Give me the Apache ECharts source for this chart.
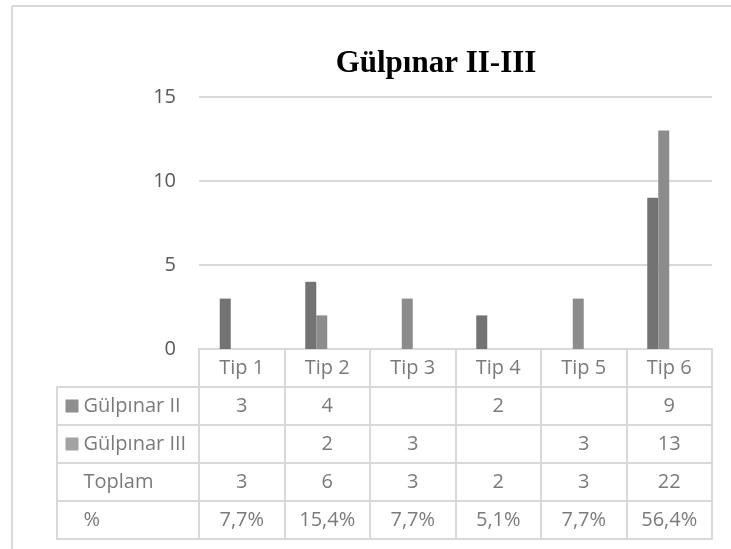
<!DOCTYPE html>
<html>
<head>
<meta charset="utf-8">
<script src="https://cdn.jsdelivr.net/npm/echarts@6/dist/echarts.min.js"></script>
<style>html,body{margin:0;padding:0;background:#fff;}#c{width:731px;height:549px;}</style>
</head>
<body>
<div id="c"></div>
<script>
const title = 'Gülpınar II-III';
const categories = ['Tip 1', 'Tip 2', 'Tip 3', 'Tip 4', 'Tip 5', 'Tip 6'];
const gulpinar2 = [3, 4, null, 2, null, 9];
const gulpinar3 = [null, 2, 3, null, 3, 13];
const toplam = [3, 6, 3, 2, 3, 22];
const percent = ['7,7%', '15,4%', '7,7%', '5,1%', '7,7%', '56,4%'];
const rowNames = ['Gülpınar II', 'Gülpınar III', 'Toplam', '%'];
const yTicks = [0, 5, 10, 15];

const colors = ['#737373', '#8c8c8c'];
const textColor = '#595959';
const lineColor = '#d9d9d9';
const font = '"Open Sans", sans-serif';

// table cells built from the arrays
const tableRows = ['header', 'r1', 'r2', 'r3', 'r4'];
const cells = [];
categories.forEach((c, i) => {
  cells.push([i, 0, c]);
  if (gulpinar2[i] != null) cells.push([i, 1, String(gulpinar2[i])]);
  if (gulpinar3[i] != null) cells.push([i, 2, String(gulpinar3[i])]);
  cells.push([i, 3, String(toplam[i])]);
  cells.push([i, 4, percent[i]]);
});
const labelCells = rowNames.map((n, i) => [0, i, n]);

const chart = echarts.init(document.getElementById('c'), null, {renderer: 'canvas'});
chart.setOption({
  animation: false,
  backgroundColor: '#fff',
  title: {
    text: title, left: 431, top: 43, textAlign: 'center',
    textStyle: {fontFamily: '"Liberation Serif", serif', fontWeight: 'bold', fontSize: 31, color: '#000'}
  },
  graphic: [
    {type: 'line', shape: {x1: 12, y1: 6, x2: 731, y2: 6}, style: {stroke: lineColor, lineWidth: 2}},
    {type: 'line', shape: {x1: 12, y1: 6, x2: 12, y2: 549}, style: {stroke: lineColor, lineWidth: 2}}
  ],
  grid: [
    {left: 199, right: 19, top: 97, bottom: 200},
    {left: 199, right: 19, top: 349, height: 190, show: true, borderColor: lineColor, borderWidth: 2},
    {left: 57, width: 142, top: 387, height: 152, show: true, borderColor: lineColor, borderWidth: 2}
  ],
  xAxis: [
    {gridIndex: 0, type: 'category', data: categories, axisLine: {show: false}, axisTick: {show: false}, axisLabel: {show: false}},
    {gridIndex: 1, type: 'category', data: categories, axisLine: {show: false}, axisTick: {show: false}, axisLabel: {show: false},
      splitLine: {show: true, interval: 0, lineStyle: {color: lineColor, width: 2}}},
    {gridIndex: 2, type: 'value', min: 0, max: 1, show: false}
  ],
  yAxis: [
    {gridIndex: 0, type: 'value', min: yTicks[0], max: yTicks[yTicks.length - 1], interval: 5,
      axisLine: {show: false}, axisTick: {show: false},
      axisLabel: {margin: 23, fontFamily: font, fontSize: 20, color: textColor},
      splitLine: {lineStyle: {color: lineColor, width: 2}}},
    {gridIndex: 1, type: 'category', data: tableRows, inverse: true, axisLine: {show: false}, axisTick: {show: false}, axisLabel: {show: false},
      splitLine: {show: true, interval: 0, lineStyle: {color: lineColor, width: 2}}},
    {gridIndex: 2, type: 'category', data: rowNames, inverse: true, axisLine: {show: false}, axisTick: {show: false}, axisLabel: {show: false},
      splitLine: {show: true, interval: 0, lineStyle: {color: lineColor, width: 2}}}
  ],
  series: [
    {name: 'Gülpınar II', type: 'bar', xAxisIndex: 0, yAxisIndex: 0, data: gulpinar2, barWidth: 11, barGap: 0, itemStyle: {color: colors[0]}},
    {name: 'Gülpınar III', type: 'bar', xAxisIndex: 0, yAxisIndex: 0, data: gulpinar3, barWidth: 11, barGap: 0, itemStyle: {color: colors[1]}},
    {name: 'Toplam', type: 'bar', xAxisIndex: 0, yAxisIndex: 0, data: toplam.map(() => null), barWidth: 11, barGap: 0, silent: true},
    {name: '%', type: 'bar', xAxisIndex: 0, yAxisIndex: 0, data: percent.map(() => null), barWidth: 11, barGap: 0, silent: true},
    {type: 'scatter', xAxisIndex: 1, yAxisIndex: 1, data: cells, symbolSize: 1, itemStyle: {color: 'rgba(0,0,0,0)'}, silent: true,
      label: {show: true, position: 'inside', formatter: p => p.value[2], fontFamily: font, fontSize: 20, color: textColor}},
    {type: 'scatter', xAxisIndex: 2, yAxisIndex: 2, data: labelCells, symbolSize: 1, itemStyle: {color: 'rgba(0,0,0,0)'}, silent: true,
      label: {show: true, position: 'right', distance: 8,
        formatter: p => (p.dataIndex === 0 ? '{a|}' : p.dataIndex === 1 ? '{b|}' : '{c|}') + '{t|' + p.value[2] + '}',
        rich: {
          a: {width: 13, height: 13, backgroundColor: colors[0]},
          b: {width: 13, height: 13, backgroundColor: colors[1]},
          c: {width: 13, height: 13},
          t: {fontFamily: font, fontSize: 20, color: textColor, padding: [0, 0, 0, 5]}
        }}}
  ]
});
</script>
</body>
</html>
